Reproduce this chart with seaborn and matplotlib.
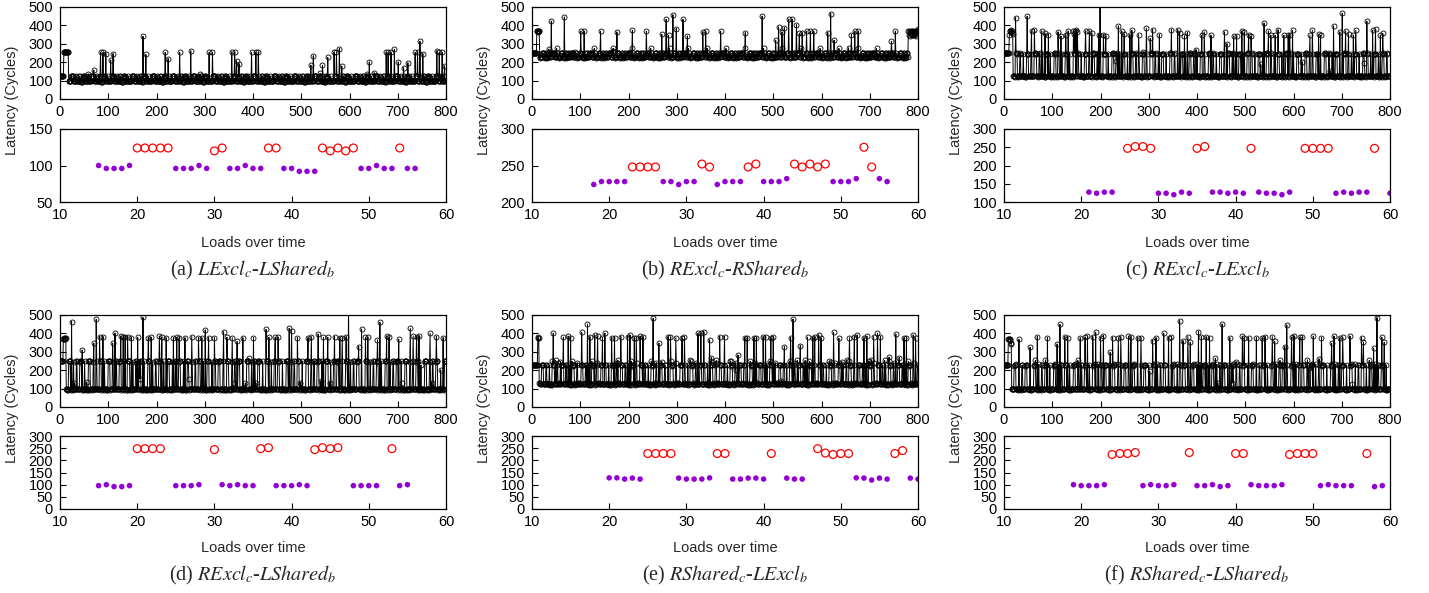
import numpy as np
import matplotlib
matplotlib.use("Agg")
import matplotlib.pyplot as plt
import seaborn as sns

sns.set_theme(style="white")
plt.rcParams["font.family"] = ["Liberation Sans", "DejaVu Sans"]
plt.rcParams["mathtext.fontset"] = "stix"

N_LOADS = 800
nan = np.nan

# ---- zoomed windows (bottom panels): latency per load, nan = not shown ----
A_WIN_START = 15
A_WIN = [100, 96, 96, 96, 100, 124, 124, 124, 124, 124, 96, 96, 96, 100, 96, 120, 124,
         96, 96, 100, 96, 96, 124, 124, 96, 96, 92, 92, 92, 124, 120, 124, 120, 124,
         96, 96, 100, 96, 96, 124, 96, 96]
B_WIN_START = 18
B_WIN = [224, 228, 228, 228, 228, 248, 248, 248, 248, 228, 228, 224, 228, 228, 252, 248,
         224, 228, 228, 228, 248, 252, 228, 228, 228, 232, 252, 248, 252, 248, 252,
         228, 228, 228, 232, 275, 248, 232, 228]
C_WIN_START = 21
C_WIN = [127, 124, 127, 127, nan, 247, 252, 252, 247, 124, 124, 120, 127, 124, 247, 252,
         127, 127, 124, 127, 124, 247, 127, 124, 124, 120, 127, nan, 247, 247, 247, 247,
         124, 127, 124, 127, 127, 247, nan, 124]
D_WIN_START = 15
D_WIN = [96, 100, 92, 92, 96, 248, 248, 248, 248, nan, 96, 96, 96, 100, nan, 244,
         100, 96, 100, 96, 96, 248, 252, 96, 96, 96, 100, 96, 244, 252, 248, 252, nan,
         96, 96, 96, 96, nan, 248, 96, 100]
E_WIN_START = 20
E_WIN = [128, 128, 123, 127, 123, 228, 228, 228, 228, 127, 123, 123, 123, 128, 228, 228,
         123, 123, 127, 127, 123, 228, nan, 127, 123, 123, nan, 248, 230, 224, 228, 228,
         128, 127, 119, 127, 123, 228, 240, 127, 123]
F_WIN_START = 19
F_WIN = [100, 96, 96, 96, 100, 224, 228, 228, 232, 96, 100, 96, 96, 100, nan, 232,
         96, 96, 100, 92, 96, 228, 228, 100, 96, 96, 96, 100, 224, 228, 228, 228,
         96, 100, 96, 96, 96, nan, 228, 92, 96]
# red open circles above this latency, purple dots below
SPLIT = [110, 240, 180, 180, 180, 180]
BOTTOM_YLIM = [(50, 150), (200, 300), (100, 300), (0, 300), (0, 300), (0, 300)]
BOTTOM_YSTEP = [50, 50, 50, 50, 50, 50]

# ---- full traces (top panels): first loads, initial burst, spikes ----
A_HEAD = [124] * 8
A_BURST = [255, 258, 255, 255, 258, 255, 255, 258, 255, 255]
A_SPIKE_X = [59, 70, 84, 89, 95, 105, 110, 172, 178, 218, 224, 248, 271, 290, 309, 316, 356,
             362, 366, 371, 397, 406, 411, 520, 525, 539, 544, 555, 568, 573, 579, 584, 636,
             641, 651, 676, 680, 686, 693, 701, 712, 721, 736, 741, 746, 752, 781, 786, 792, 797]
A_SPIKE_Y = [135, 157, 253, 253, 247, 211, 247, 341, 242, 253, 220, 253, 262, 135, 253, 253, 256,
             253, 208, 190, 253, 253, 253, 184, 235, 139, 184, 226, 253, 253, 274, 179, 135,
             202, 143, 253, 253, 253, 271, 202, 170, 197, 253, 253, 314, 247, 262, 253, 253, 180]

B_HEAD = [250] * 10
B_BURST = [368, 372, 365, 370, 368, 372]
B_SPIKE_X = [35, 40, 67, 90, 101, 108, 142, 167, 176, 208, 237, 269, 278, 283, 292, 299, 313,
             322, 354, 360, 391, 442, 477, 505, 511, 518, 523, 532, 539, 548, 554, 560, 569,
             577, 584, 613, 619, 626, 656, 662, 669, 676, 745, 753]
B_SPIKE_Y = [271, 424, 446, 253, 368, 368, 368, 262, 365, 374, 368, 352, 433, 347, 458, 383, 433,
             343, 365, 368, 368, 361, 451, 320, 392, 365, 388, 433, 433, 404, 356, 361, 368,
             368, 368, 361, 464, 320, 278, 350, 368, 368, 314, 368]
B_TAIL = [368, 372, 350, 366, 345, 370, 352, 368, 346, 372, 350, 366, 348, 370, 352, 368,
          345, 372, 355, 380]

C_HEAD = [250] * 11
C_BURST = [350, 368, 372, 365, 375, 360, 370, 352]
C_SPIKE_X = [24, 48, 57, 63, 78, 85, 92, 112, 118, 128, 133, 144, 146, 148, 150, 152, 169, 177,
             182, 196, 199, 206, 211, 232, 237, 244, 249, 261, 265, 279, 288, 295, 303, 308,
             322, 347, 360, 364, 374, 380, 398, 410, 415, 429, 457, 462, 476, 482, 493, 498,
             507, 512, 532, 539, 548, 553, 562, 568, 580, 589, 592, 598, 618, 634, 639, 652,
             656, 676, 683, 696, 701, 708, 714, 724, 729, 747, 752, 764, 770, 780, 785]
C_SPIKE_Y = [442, 450, 370, 377, 370, 356, 350, 365, 343, 350, 370, 370, 355, 372, 377, 365, 370,
             370, 356, 350, 560, 350, 343, 206, 397, 370, 352, 350, 374, 350, 256, 386, 329,
             377, 350, 377, 377, 361, 343, 361, 269, 347, 365, 347, 365, 301, 343, 343, 370,
             365, 350, 343, 188, 413, 370, 347, 347, 377, 347, 347, 350, 374, 202, 347, 374,
             352, 347, 153, 397, 365, 467, 370, 352, 347, 374, 193, 422, 374, 379, 347, 356]

D_HEAD = [250] * 7
D_BURST = [372, 375, 370, 376, 372, 374]
D_SPIKE_X = [24, 30, 46, 55, 70, 75, 82, 89, 109, 114, 126, 131, 135, 140, 148, 161, 166, 172,
             183, 189, 206, 211, 220, 235, 242, 247, 259, 267, 273, 287, 294, 301, 308, 320,
             339, 346, 357, 361, 367, 379, 384, 391, 401, 406, 427, 433, 446, 452, 475, 480,
             492, 498, 514, 521, 535, 540, 546, 555, 559, 569, 580, 585, 593, 598, 619, 625,
             633, 638, 658, 663, 677, 682, 702, 708, 726, 732, 739, 744, 748, 767, 770, 780,
             789, 794]
D_SPIKE_Y = [464, 130, 310, 135, 347, 476, 383, 383, 347, 401, 386, 383, 383, 383, 377, 379, 153,
             487, 377, 379, 386, 379, 377, 377, 379, 377, 377, 153, 383, 377, 377, 419, 377,
             377, 410, 379, 377, 130, 356, 377, 130, 265, 377, 130, 422, 379, 379, 379, 428,
             415, 377, 133, 377, 383, 397, 142, 379, 379, 133, 383, 377, 377, 383, 560, 328,
             424, 379, 379, 365, 460, 386, 383, 368, 133, 428, 386, 383, 386, 229, 401, 133,
             383, 202, 377]

E_HEAD = [228] * 12
E_BURST = [376, 378, 375]
E_SPIKE_X = [44, 49, 59, 65, 75, 80, 103, 115, 120, 130, 136, 146, 151, 165, 171, 178, 184, 198,
             203, 212, 216, 224, 230, 251, 263, 269, 282, 287, 298, 311, 316, 328, 344, 350,
             356, 368, 372, 382, 389, 399, 412, 423, 427, 441, 446, 460, 465, 479, 484, 495,
             500, 517, 523, 536, 541, 550, 556, 566, 571, 582, 586, 594, 599, 620, 625, 636,
             642, 652, 658, 668, 674, 688, 694, 703, 708, 716, 722, 731, 740, 754, 761, 771,
             776, 790, 795]
E_SPIKE_Y = [401, 253, 247, 379, 386, 377, 406, 451, 383, 392, 386, 377, 401, 377, 377, 253, 383,
             383, 392, 377, 377, 386, 383, 482, 347, 247, 383, 379, 377, 377, 383, 253, 401,
             401, 410, 365, 269, 253, 383, 383, 251, 199, 283, 377, 377, 377, 377, 383, 383,
             377, 383, 144, 328, 377, 478, 253, 334, 253, 379, 377, 379, 392, 374, 247, 406,
             374, 247, 256, 377, 383, 392, 377, 386, 256, 383, 401, 383, 253, 271, 397, 269,
             377, 377, 392, 374]

F_HEAD = [228] * 9
F_BURST = [368, 372, 370, 365, 372, 345, 350]
F_SPIKE_X = [31, 54, 65, 69, 86, 90, 110, 116, 126, 132, 153, 158, 168, 173, 184, 190, 200, 206,
             220, 225, 237, 242, 258, 263, 277, 284, 302, 308, 315, 331, 341, 347, 364, 371,
             381, 386, 403, 409, 419, 426, 438, 443, 452, 468, 473, 481, 494, 498, 507, 523,
             535, 541, 556, 561, 572, 582, 586, 596, 601, 613, 618, 629, 632, 641, 653, 658,
             679, 684, 696, 702, 717, 722, 741, 745, 757, 766, 773, 783, 788]
F_SPIKE_Y = [368, 325, 253, 383, 256, 377, 343, 449, 383, 377, 253, 377, 379, 386, 383, 406, 377,
             388, 298, 377, 377, 383, 386, 383, 377, 377, 193, 361, 377, 401, 377, 383, 469,
             361, 383, 352, 410, 383, 383, 377, 265, 130, 451, 377, 130, 247, 386, 377, 377,
             377, 377, 383, 383, 356, 253, 328, 446, 379, 386, 379, 379, 256, 211, 386, 262,
             377, 347, 386, 377, 379, 386, 126, 377, 352, 253, 320, 486, 379, 352]

CAPTIONS = [r"(a) $LExcl_c$-$LShared_b$", r"(b) $RExcl_c$-$RShared_b$",
            r"(c) $RExcl_c$-$LExcl_b$", r"(d) $RExcl_c$-$LShared_b$",
            r"(e) $RShared_c$-$LExcl_b$", r"(f) $RShared_c$-$LShared_b$"]

panels = [
    (A_HEAD, A_BURST, A_WIN_START, A_WIN, A_SPIKE_X, A_SPIKE_Y, None),
    (B_HEAD, B_BURST, B_WIN_START, B_WIN, B_SPIKE_X, B_SPIKE_Y, B_TAIL),
    (C_HEAD, C_BURST, C_WIN_START, C_WIN, C_SPIKE_X, C_SPIKE_Y, None),
    (D_HEAD, D_BURST, D_WIN_START, D_WIN, D_SPIKE_X, D_SPIKE_Y, None),
    (E_HEAD, E_BURST, E_WIN_START, E_WIN, E_SPIKE_X, E_SPIKE_Y, None),
    (F_HEAD, F_BURST, F_WIN_START, F_WIN, F_SPIKE_X, F_SPIKE_Y, None),
]


def build_trace(head, burst, window, spike_x, spike_y, tail):
    # the steady part of the trace repeats the pattern seen in the zoomed window
    base = np.asarray(window, dtype=float)
    base = np.where(np.isnan(base), np.nanmin(base), base)
    start = len(head) + len(burst)
    body = np.resize(base, N_LOADS - start)
    trace = np.concatenate([head, burst, body]).astype(float)
    trace[spike_x] = spike_y
    if tail is not None:
        trace[-len(tail):] = tail
    return trace


W, H = 1429, 593
fig = plt.figure(figsize=(W / 100, H / 100), dpi=100)

col_left = [60, 532, 1004]
col_width = 386
rows = [(7, 99, 129, 202, 243, 270, 100), (315, 407, 436, 509, 548, 575, 408)]

PURPLE = "#9400d3"
RED = "#ff0000"


def style_axes(ax):
    for s in ax.spines.values():
        s.set_color("black")
        s.set_linewidth(0.9)
    ax.tick_params(direction="in", length=4, width=0.8, labelsize=10.5,
                   colors="black", bottom=True, left=True)
    ax.tick_params(axis="x", pad=4)
    ax.tick_params(axis="y", pad=5)
    ax.set_xlabel("")
    ax.set_ylabel("")


for i, (head, burst, wstart, win, sx, sy, tail) in enumerate(panels):
    r, c = divmod(i, 3)
    t0, t1, b0, b1, lab_y, cap_y, ylab_y = rows[r]
    left = col_left[c] / W
    width = col_width / W

    # top: whole trace
    ax = fig.add_axes([left, 1 - t1 / H, width, (t1 - t0) / H])
    trace = build_trace(head, burst, win, sx, sy, tail)
    idx = np.arange(N_LOADS)
    sns.lineplot(x=idx, y=trace, ax=ax, color="black", linewidth=0.7, marker="o",
                 markersize=3.6, markerfacecolor="none", markeredgecolor="black",
                 markeredgewidth=0.6, errorbar=None, sort=False)
    ax.set_xlim(0, 800)
    ax.set_ylim(0, 500)
    ax.set_xticks(range(0, 801, 100))
    ax.set_yticks(range(0, 501, 100))
    style_axes(ax)

    # bottom: zoomed window
    axb = fig.add_axes([left, 1 - b1 / H, width, (b1 - b0) / H])
    wx = np.arange(wstart, wstart + len(win))
    wy = np.asarray(win, dtype=float)
    hi = wy > SPLIT[i]
    lo = wy <= SPLIT[i]
    sns.scatterplot(x=wx[lo], y=wy[lo], ax=axb, color=PURPLE, s=16, edgecolor="none")
    sns.scatterplot(x=wx[hi], y=wy[hi], ax=axb, facecolor="none", edgecolor=RED,
                    s=32, linewidth=0.9)
    axb.set_xlim(10, 60)
    lo_y, hi_y = BOTTOM_YLIM[i]
    axb.set_ylim(lo_y, hi_y)
    axb.set_xticks(range(10, 61, 10))
    axb.set_yticks(range(lo_y, hi_y + 1, BOTTOM_YSTEP[i]))
    style_axes(axb)

    cx = (col_left[c] + col_width / 2) / W
    fig.text(cx, 1 - lab_y / H, "Loads over time", ha="center", va="center", fontsize=10.5)
    fig.text(cx, 1 - cap_y / H, CAPTIONS[i], ha="center", va="center", fontsize=14.5,
             family=["Liberation Serif", "DejaVu Serif"])
    fig.text((col_left[c] - 48) / W, 1 - ylab_y / H, "Latency (Cycles)", rotation=90,
             ha="center", va="center", fontsize=10.5)

fig.savefig("out.png", dpi=100)
